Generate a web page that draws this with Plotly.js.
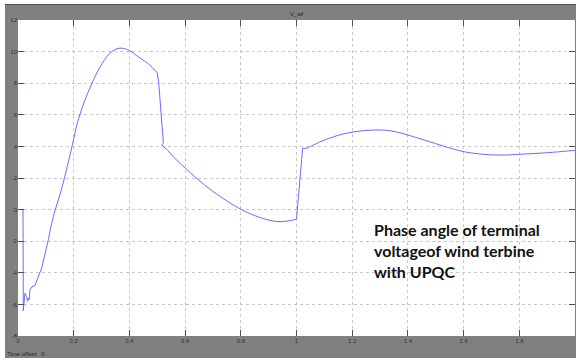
<!DOCTYPE html>
<html>
<head>
<meta charset="utf-8">
<script src="https://cdn.plot.ly/plotly-3.0.1.min.js"></script>
<style>
html,body{margin:0;padding:0;background:#ffffff;width:576px;height:358px;overflow:hidden;}
#topline{position:absolute;left:5px;top:4px;width:571px;height:1px;background:#505050;z-index:5;}
#chart{position:absolute;left:5px;top:4px;width:571px;height:354px;}
</style>
</head>
<body>
<div id="topline"></div>
<div id="chart"></div>
<script>
// time (s)
const timeValues = [0, 0.018, 0.019, 0.025, 0.031, 0.034, 0.037, 0.040, 0.043, 0.049, 0.061, 0.073, 0.085, 0.097, 0.109,
  0.126, 0.158, 0.194, 0.215, 0.251, 0.294, 0.330, 0.359, 0.390, 0.438, 0.470, 0.500,
  0.505, 0.522, 0.516, 0.528, 0.535,
  0.56, 0.60, 0.65, 0.70, 0.75, 0.80, 0.85, 0.90, 0.93, 0.97, 1.0,
  1.019, 1.022, 1.037,
  1.08, 1.12, 1.17, 1.228, 1.27, 1.30, 1.35, 1.40, 1.45, 1.515, 1.56, 1.605, 1.67, 1.73, 1.80, 1.90, 2.0];
// phase angle of terminal voltage
const angleValues = [0, 0, -6.4, -5.3, -5.5, -5.8, -5.6, -5.7, -5.1, -4.9, -4.8, -4.3, -3.7, -2.8, -1.9,
  -0.5, 1.4, 4.0, 5.6, 7.4, 9.0, 9.9, 10.2, 10.15, 9.6, 9.2, 8.66,
  8.1, 4.2, 4.1, 3.9, 3.8,
  3.3, 2.63, 1.85, 1.15, 0.55, 0.02, -0.38, -0.66, -0.76, -0.72, -0.6,
  3.67, 3.88, 3.88,
  4.25, 4.53, 4.8, 4.97, 5.03, 5.04, 4.95, 4.72, 4.45, 4.09, 3.85, 3.65, 3.5, 3.45, 3.5, 3.6, 3.75];
const xTicks = [0, 0.2, 0.4, 0.6, 0.8, 1, 1.2, 1.4, 1.6, 1.8, 2];
const yTicks = [-8, -6, -4, -2, 0, 2, 4, 6, 8, 10, 12];
const chartTitle = 'V_wf';
const noteText = 'Phase angle of terminal<br>voltageof wind terbine<br>with UPQC';
const offsetText = 'Time offset:  0';

// smooth stretches drawn as splines, switching transients drawn straight
const segments = [[0, 14, 'linear'], [14, 26, 'spline'], [26, 31, 'linear'],
  [31, 42, 'spline'], [42, 45, 'linear'], [45, 62, 'spline']];

const axisCommon = {
  showgrid: true,
  gridcolor: '#c8c8c8',
  griddash: 'dot',
  gridwidth: 1,
  zeroline: false,
  showline: false,
  ticks: 'inside',
  ticklen: 6,
  tickwidth: 1,
  tickcolor: '#505050',
  mirror: 'ticks',
  tickfont: {family: 'Liberation Sans, Arial, sans-serif', size: 6, color: '#333333'}
};

const traces = segments.map(function (s) {
  return {
    x: timeValues.slice(s[0], s[1] + 1),
    y: angleValues.slice(s[0], s[1] + 1),
    type: 'scatter',
    mode: 'lines',
    line: {color: '#6b6bff', width: 1, shape: s[2], smoothing: 1},
    hoverinfo: 'skip'
  };
});

const layout = {
  width: 571,
  height: 354,
  margin: {l: 13, r: 1, t: 16, b: 22},
  paper_bgcolor: '#808080',
  plot_bgcolor: '#ffffff',
  showlegend: false,
  title: {
    text: chartTitle,
    font: {family: 'Liberation Sans, Arial, sans-serif', size: 6, color: '#222222'},
    x: 0.5, xref: 'paper', xanchor: 'center',
    y: 1 - 10/354, yref: 'container', yanchor: 'middle'
  },
  xaxis: Object.assign({}, axisCommon, {
    range: [0, 2],
    tickvals: xTicks,
    ticktext: xTicks.map(String)
  }),
  yaxis: Object.assign({}, axisCommon, {
    range: [-8, 12],
    tickvals: yTicks,
    ticktext: yTicks.map(String)
  }),
  annotations: [
    {
      text: noteText,
      xref: 'x', yref: 'y',
      x: 1.271, y: -2.6,
      xanchor: 'left', yanchor: 'middle',
      align: 'left',
      showarrow: false,
      font: {family: 'Lato, sans-serif', size: 16, color: '#111111', weight: 'bold'}
    },
    {
      text: offsetText,
      xref: 'paper', yref: 'paper',
      x: -13/557, y: -18/316,
      xanchor: 'left', yanchor: 'middle',
      showarrow: false,
      font: {family: 'Liberation Sans, Arial, sans-serif', size: 6, color: '#222222'}
    }
  ]
};

Plotly.newPlot('chart', traces, layout, {displayModeBar: false, staticPlot: true});
</script>
</body>
</html>
